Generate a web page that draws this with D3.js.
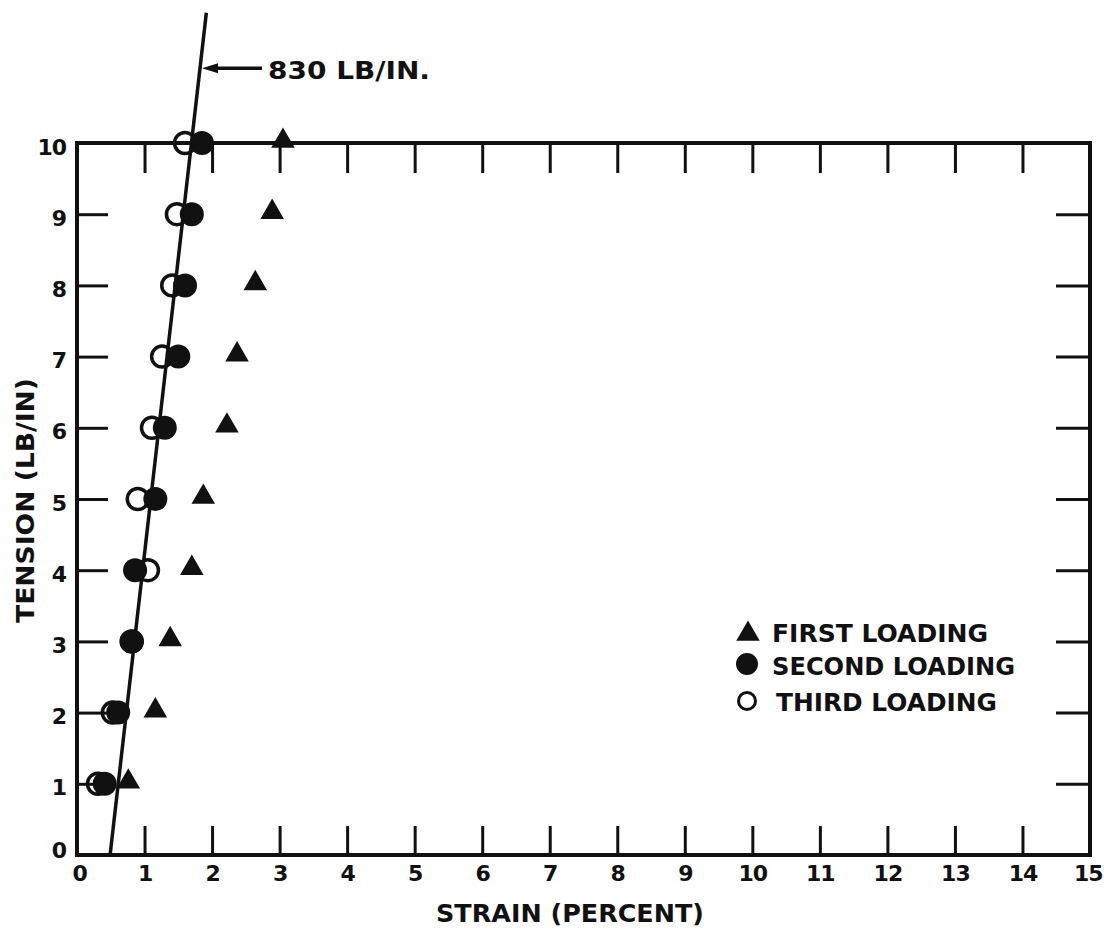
<!DOCTYPE html>
<html>
<head>
<meta charset="utf-8">
<script src="https://cdn.jsdelivr.net/npm/d3@7"></script>
<style>
  body { margin: 0; background: #fff; }
  svg { display: block; }
  text { font-family: "DejaVu Sans", sans-serif; font-weight: bold; fill: #111; }
</style>
</head>
<body>
<svg id="chart" width="1104" height="931"></svg>
<script>
// Tension levels (LB/IN) and measured strain (%) for each loading cycle
const tensionLevels = [1, 2, 3, 4, 5, 6, 7, 8, 9, 10];
const firstLoading  = [0.76, 1.16, 1.38, 1.70, 1.87, 2.22, 2.37, 2.64, 2.89, 3.05];
const secondLoading = [0.41, 0.61, 0.81, 0.86, 1.16, 1.30, 1.50, 1.60, 1.70, 1.85];
const thirdLoading  = [0.31, 0.53, 0.81, 1.05, 0.90, 1.11, 1.26, 1.41, 1.48, 1.60];

const xTickLabels = d3.range(0, 16);
const yTickLabels = d3.range(0, 11);
const xTickMarks = d3.range(1, 15);
const yTickMarks = d3.range(1, 10);

// Stiffness line: strain(%) = offset + 100 * T / stiffness
const stiffness = 830;
const strainOffset = 0.49;
const lineTensionTop = 11.83;
const stiffnessLabel = "830 LB/IN.";

const legendItems = ["FIRST LOADING", "SECOND LOADING", "THIRD LOADING"];

const svg = d3.select("#chart");
const ink = "#111";

const x = d3.scaleLinear().domain([0, 15]).range([77, 1090]);
const y = d3.scaleLinear().domain([0, 10]).range([855, 143]);

// Frame
svg.append("rect")
  .attr("x", x(0)).attr("y", y(10))
  .attr("width", x(15) - x(0)).attr("height", y(0) - y(10))
  .attr("fill", "none").attr("stroke", ink).attr("stroke-width", 4);

function tickStyle(g) {
  g.select(".domain").remove();
  g.selectAll(".tick line").attr("stroke", ink).attr("stroke-width", 3);
}
function labelStyle(g) {
  g.select(".domain").remove();
  g.selectAll(".tick line").remove();
  g.selectAll(".tick text").attr("font-size", 22).attr("fill", ink)
    .attr("letter-spacing", -1)
    .style("font-family", "'DejaVu Sans', sans-serif").style("font-weight", "bold");
}

// Inward tick marks on all four sides
svg.append("g").attr("transform", `translate(0,${y(0)})`)
  .call(d3.axisBottom(x).tickValues(xTickMarks).tickSize(-29).tickFormat("")).call(tickStyle);
svg.append("g").attr("transform", `translate(0,${y(10)})`)
  .call(d3.axisTop(x).tickValues(xTickMarks).tickSize(-30).tickFormat("")).call(tickStyle);
svg.append("g").attr("transform", `translate(${x(0)},0)`)
  .call(d3.axisLeft(y).tickValues(yTickMarks).tickSize(-31).tickFormat("")).call(tickStyle);
svg.append("g").attr("transform", `translate(${x(15)},0)`)
  .call(d3.axisRight(y).tickValues(yTickMarks).tickSize(-34).tickFormat("")).call(tickStyle);

// Tick labels
const xLab = svg.append("g").attr("transform", `translate(0,${y(0)})`)
  .call(d3.axisBottom(x).tickValues(xTickLabels).tickSize(0).tickPadding(10).tickFormat(d3.format("d")))
  .call(labelStyle);
xLab.selectAll(".tick text").attr("dx", d => d === 15 ? "-0.1em" : (d === 0 ? "0.1em" : 0));
const yLab = svg.append("g").attr("transform", `translate(${x(0)},0)`)
  .call(d3.axisLeft(y).tickValues(yTickLabels).tickSize(0).tickPadding(11).tickFormat(d3.format("d")))
  .call(labelStyle);
yLab.selectAll(".tick text").attr("dy", d => d === 0 ? "0.1em" : "0.5em");

// Axis titles
svg.append("text")
  .attr("x", 436).attr("y", 922)
  .attr("font-size", 25).attr("textLength", 268).attr("lengthAdjust", "spacingAndGlyphs")
  .text("STRAIN (PERCENT)");
svg.append("text")
  .attr("transform", "translate(34,623) rotate(-90)")
  .attr("font-size", 25).attr("textLength", 245).attr("lengthAdjust", "spacingAndGlyphs")
  .text("TENSION (LB/IN)");

// Data markers
const triangle = d3.symbol().type(d3.symbolTriangle).size(240);
const rows = tensionLevels.map((t, i) => ({
  t, first: firstLoading[i], second: secondLoading[i], third: thirdLoading[i]
}));

svg.append("g").selectAll("circle").data(rows).join("circle")
  .attr("cx", d => x(d.third)).attr("cy", d => y(d.t)).attr("r", 10.5)
  .attr("fill", "none").attr("stroke", ink).attr("stroke-width", 3.5);
svg.append("g").selectAll("circle").data(rows).join("circle")
  .attr("cx", d => x(d.second)).attr("cy", d => y(d.t)).attr("r", 12)
  .attr("fill", ink);
svg.append("g").selectAll("path").data(rows).join("path")
  .attr("d", triangle)
  .attr("transform", d => `translate(${x(d.first)},${y(d.t) - 2})`)
  .attr("fill", ink);

// Stiffness line
const strainAt = t => strainOffset + 100 * t / stiffness;
svg.append("line")
  .attr("x1", x(strainAt(0))).attr("y1", y(0))
  .attr("x2", x(strainAt(lineTensionTop))).attr("y2", y(lineTensionTop))
  .attr("stroke", ink).attr("stroke-width", 3.5);

// Callout arrow and label
const calloutT = 11.05;
const ax = x(strainAt(calloutT)) + 2;
const ay = y(calloutT);
svg.append("line")
  .attr("x1", ax + 10).attr("y1", ay).attr("x2", ax + 60).attr("y2", ay)
  .attr("stroke", ink).attr("stroke-width", 3.5);
svg.append("path")
  .attr("d", `M${ax},${ay} L${ax + 16},${ay - 5} L${ax + 16},${ay + 5} Z`)
  .attr("fill", ink);
svg.append("text")
  .attr("x", 268).attr("y", 79)
  .attr("font-size", 25).attr("textLength", 162).attr("lengthAdjust", "spacingAndGlyphs")
  .text(stiffnessLabel);

// Legend
const legend = svg.append("g");
legend.append("path").attr("d", triangle).attr("transform", "translate(748,634)").attr("fill", ink);
legend.append("circle").attr("cx", 747).attr("cy", 664).attr("r", 11).attr("fill", ink);
legend.append("circle").attr("cx", 747).attr("cy", 701).attr("r", 8.5)
  .attr("fill", "none").attr("stroke", ink).attr("stroke-width", 3);
const legendLayout = [
  { y: 642, x: 772, w: 216 },
  { y: 675, x: 772, w: 243 },
  { y: 711, x: 776, w: 221 }
];
legend.selectAll("text").data(legendItems).join("text")
  .attr("x", (d, i) => legendLayout[i].x).attr("y", (d, i) => legendLayout[i].y)
  .attr("font-size", 24)
  .attr("textLength", (d, i) => legendLayout[i].w).attr("lengthAdjust", "spacingAndGlyphs")
  .text(d => d);
</script>
</body>
</html>
